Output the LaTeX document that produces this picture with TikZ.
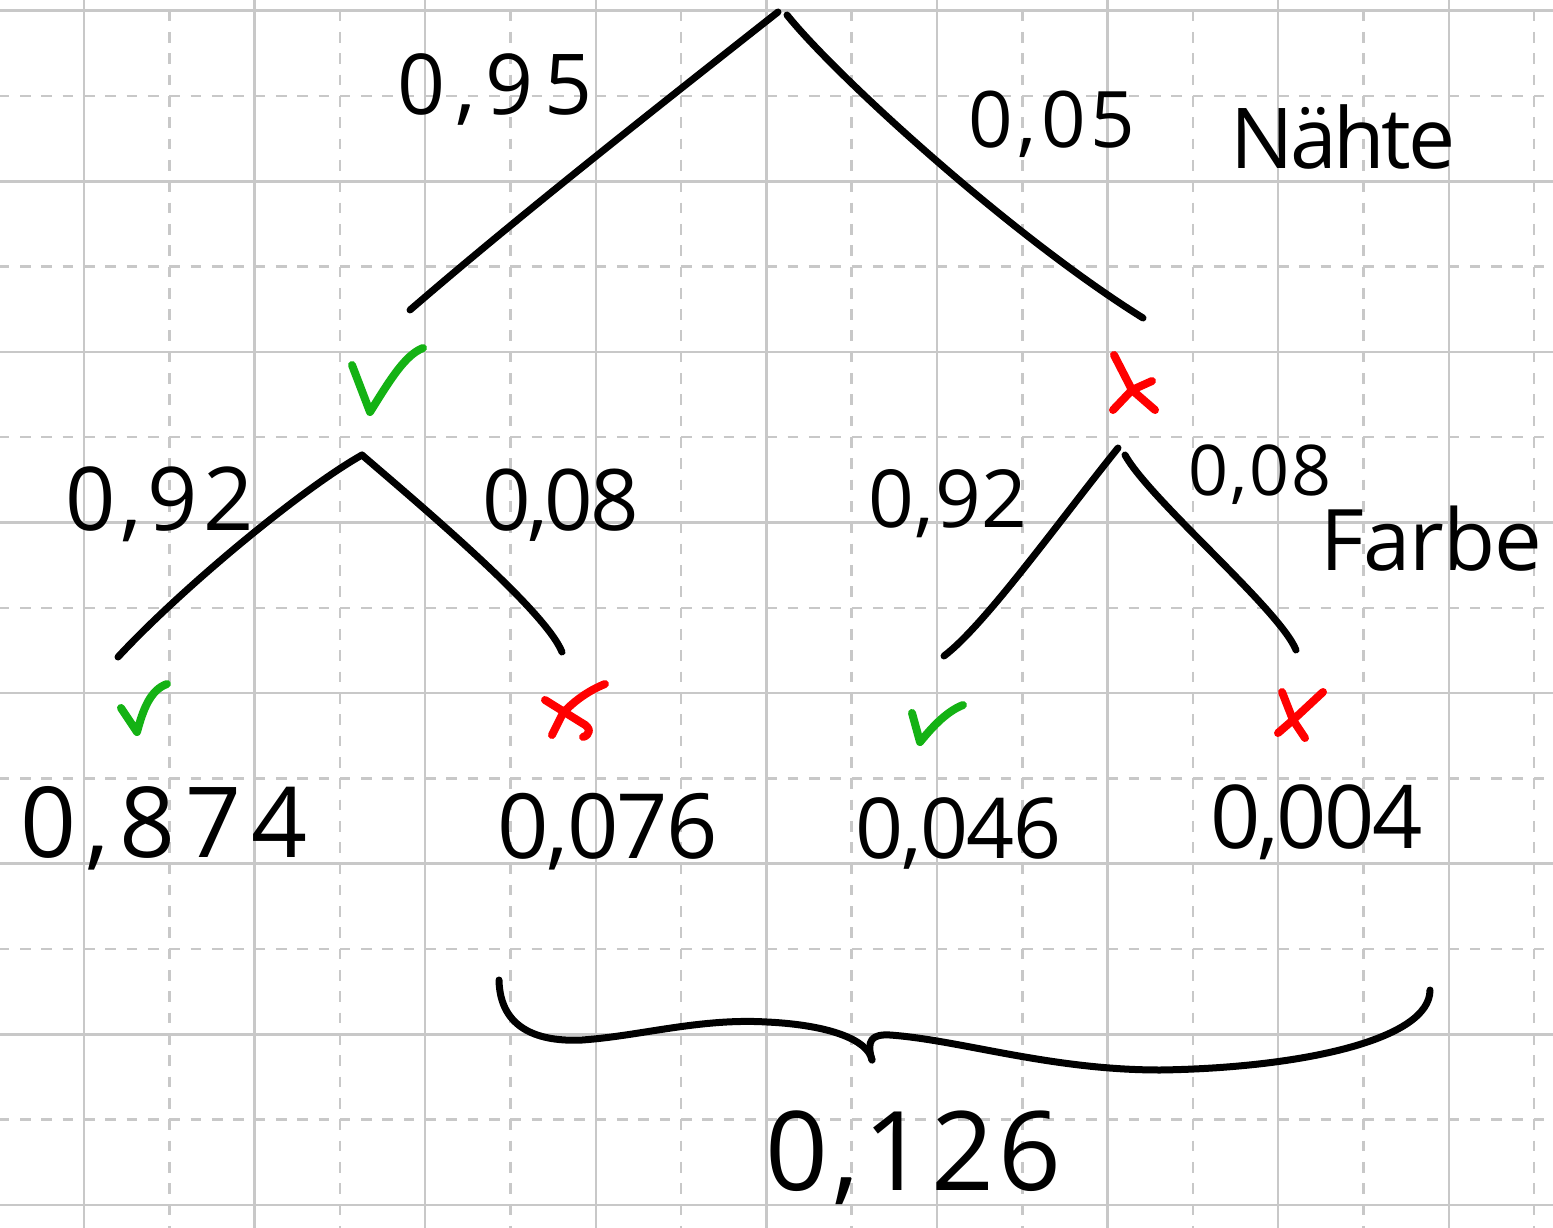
\documentclass[tikz,border=0pt]{standalone}
\usepackage{fontspec}
\newfontfamily\hand{Open Sans}
\definecolor{okgreen}{RGB}{20,178,20}
\definecolor{nored}{RGB}{255,0,0}
\definecolor{gridc}{RGB}{200,200,200}
\newcommand{\lab}[3]{{\hand\fontsize{#1}{#1}\addfontfeature{LetterSpace=#2}\selectfont #3}}
\tikzset{
  gridsolid/.style={draw=gridc, line width=2.5pt},
  griddash/.style={draw=gridc, line width=2.5pt, dash pattern=on 10.66pt off 10.66pt},
  branch/.style={draw=black, line width=7pt, line cap=round, line join=round},
  okmark/.style={draw=okgreen, line width=8pt, line cap=round, line join=round},
  nomark/.style={draw=nored, line width=8pt, line cap=round, line join=round},
  lbl/.style={inner sep=0pt, anchor=base west, text=black}
}
\begin{document}
\begin{tikzpicture}[x=1pt,y=-1pt]
\useasboundingbox (0,0) rectangle (1553,1228);
\fill[white] (0,0) rectangle (1553,1228);
% grid
\begin{scope}
\clip (0,0) rectangle (1553,1228);
\foreach \k in {0,...,8} {
  \draw[gridsolid] ({84+170.6*\k},0) -- ({84+170.6*\k},1228);
}
\foreach \k in {0,...,7} {
  \draw[gridsolid] (0,{10.7+170.6*\k}) -- (1553,{10.7+170.6*\k});
}
\foreach \k in {0,...,9} {
  \draw[griddash] ({-1.3+170.6*\k},-74.6) -- ({-1.3+170.6*\k},1228);
}
\foreach \k in {0,...,6} {
  \draw[griddash] (-1.3,{96+170.6*\k}) -- (1553,{96+170.6*\k});
}
\end{scope}

% tree coordinates
\coordinate (rootL) at (778,12);
\coordinate (rootR) at (787,15);
\coordinate (endA) at (410,310);
\coordinate (endB) at (1143,318);
\coordinate (j1) at (362,455);
\coordinate (endC) at (118,657);
\coordinate (endD) at (562,652);
\coordinate (j2L) at (1118,448);
\coordinate (j2R) at (1125,455);
\coordinate (endE) at (944,656);
\coordinate (endF) at (1296,650);

\draw[branch] (rootL) .. controls (660,105) and (520,215) .. (endA);
\draw[branch] (rootR) .. controls (835,75) and (1010,235) .. (endB);
\draw[branch] (j1) .. controls (300,490) and (180,590) .. (endC);
\draw[branch] (j1) .. controls (420,505) and (545,610) .. (endD);
\draw[branch] (j2L) .. controls (1060,520) and (985,625) .. (endE);
\draw[branch] (j2R) .. controls (1150,500) and (1280,610) .. (endF);

% check marks and crosses
\draw[okmark] (352,365) -- (370,412) .. controls (390,380) and (405,355) .. (423,348);
\draw[nomark] (1114,355) -- (1132,390) -- (1155,410);
\draw[nomark] (1152,381) -- (1132,390) -- (1113,410);
\draw[okmark] (121,708) -- (137,732) .. controls (143,710) and (150,690) .. (167,684);
\draw[nomark] (545,700) -- (582,723) .. controls (592,728) and (590,735) .. (583,737);
\draw[nomark] (605,684) .. controls (590,690) and (575,700) .. (563,713) -- (552,735);
\draw[okmark] (912,713) -- (920,742) .. controls (930,730) and (945,712) .. (963,705);
\draw[nomark] (1282,692) -- (1293,720) -- (1305,738);
\draw[nomark] (1323,692) -- (1293,720) -- (1278,733);

% brace
\coordinate (brL) at (499,980);
\coordinate (brTip) at (872,1060);
\coordinate (brR) at (1430,990);
\draw[branch] (brL) .. controls (500,1030) and (540,1042) .. (582,1040)
  .. controls (640,1036) and (700,1018) .. (767,1022)
  .. controls (830,1025) and (868,1040) .. (brTip);
\draw[branch] (brTip) .. controls (866,1040) and (872,1034) .. (890,1035)
  .. controls (960,1040) and (1050,1070) .. (1160,1070)
  .. controls (1300,1068) and (1430,1040) .. (brR);

% labels
\node[lbl] (p095) at (397,115) {\lab{84}{12}{0,95}};
\node[lbl] (p005) at (968,148) {\lab{78}{6}{0,05}};
\node[lbl] (naehte) at (1230,168) {\lab{84}{-4}{Nähte}};
\node[lbl] (p092a) at (65,530) {\lab{88}{6}{0,92}};
\node[lbl] (p008a) at (482,530) {\lab{85}{-4}{0,08}};
\node[lbl] (p092b) at (868,527) {\lab{80}{1}{0,92}};
\node[lbl] (p008b) at (1188,495) {\lab{70}{3}{0,08}};
\node[lbl] (farbe) at (1320,570) {\lab{85}{-1}{Farbe}};
\node[lbl] (p0874) at (20,857) {\lab{98}{10}{0,874}};
\node[lbl] (p0076) at (497,858) {\lab{90}{-2}{0,076}};
\node[lbl] (p0046) at (855,858) {\lab{84}{-2}{0,046}};
\node[lbl] (p0004) at (1210,848) {\lab{88}{-3}{0,004}};
\node[lbl] (p0126) at (765,1190) {\lab{110}{4}{0,126}};
\end{tikzpicture}
\end{document}
